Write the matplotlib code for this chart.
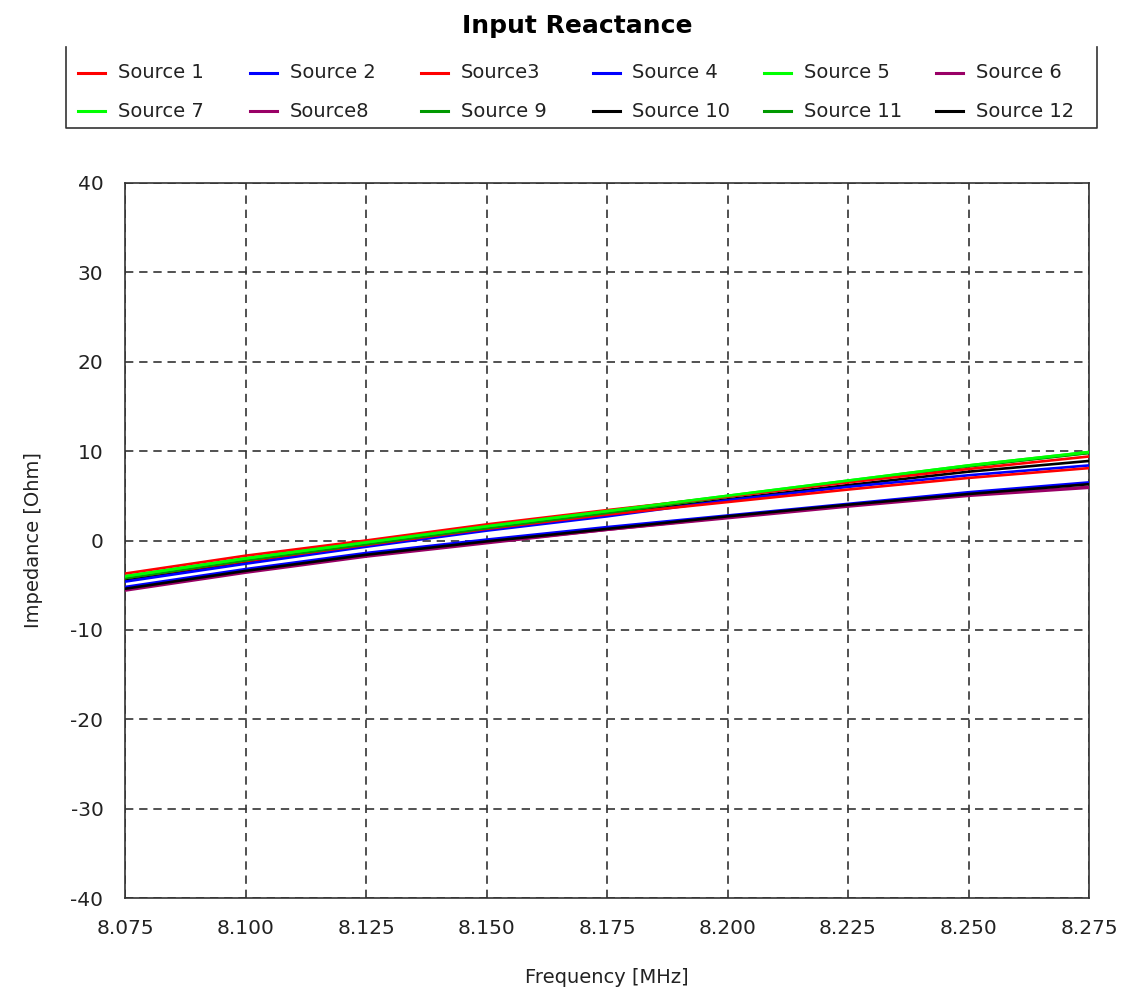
import matplotlib
matplotlib.use("Agg")
import matplotlib.pyplot as plt
from matplotlib.lines import Line2D

freq = [8.075, 8.100, 8.125, 8.150, 8.175, 8.200, 8.225, 8.250, 8.275]

names = ["Source 1", "Source 2", "Source3", "Source 4", "Source 5", "Source 6",
         "Source 7", "Source8", "Source 9", "Source 10", "Source 11", "Source 12"]
colors = ["#FF0000", "#0000FF", "#FF0000", "#0000FF", "#00FF00", "#990066",
          "#00FF00", "#990066", "#009900", "#000000", "#009900", "#000000"]

s1 = [-3.7, -1.7, 0.0, 1.8, 3.4, 4.9, 6.5, 8.0, 9.4]
s2 = [-4.6, -2.6, -0.7, 1.1, 2.7, 4.5, 6.0, 7.3, 8.4]
s3 = [-4.2, -2.3, -0.5, 1.3, 2.9, 4.3, 5.7, 7.0, 8.1]
s4 = [-5.2, -3.2, -1.4, 0.1, 1.5, 2.8, 4.1, 5.4, 6.5]
s5 = [-4.0, -2.0, -0.2, 1.6, 3.3, 5.0, 6.7, 8.4, 9.9]
s6 = [-5.6, -3.6, -1.8, -0.3, 1.2, 2.5, 3.8, 5.0, 5.9]
s7 = [-4.0, -2.0, -0.2, 1.6, 3.3, 5.0, 6.7, 8.4, 9.9]
s8 = [-5.5, -3.5, -1.7, -0.2, 1.2, 2.6, 3.9, 5.1, 6.0]
s9 = [-4.2, -2.2, -0.4, 1.4, 3.1, 4.9, 6.6, 8.3, 9.8]
s10 = [-4.4, -2.4, -0.6, 1.2, 2.9, 4.6, 6.2, 7.7, 8.9]
s11 = [-4.2, -2.2, -0.4, 1.4, 3.1, 4.9, 6.6, 8.3, 9.8]
s12 = [-5.4, -3.4, -1.6, -0.1, 1.3, 2.7, 4.0, 5.2, 6.3]
series = [s1, s2, s3, s4, s5, s6, s7, s8, s9, s10, s11, s12]

xticks = [8.075, 8.100, 8.125, 8.150, 8.175, 8.200, 8.225, 8.250, 8.275]
yticks = [-40, -30, -20, -10, 0, 10, 20, 30, 40]

plt.rcParams['font.family'] = ['DejaVu Sans']

W, H = 1123, 996
fig = plt.figure(figsize=(W/100, H/100), dpi=100)
ax = fig.add_axes([125/W, 1-898/H, (1089-125)/W, (898-183)/H])

order = [9, 3, 7, 1, 2, 5, 11, 8, 10, 6, 0, 4]
for i in order:
    ax.plot(freq, series[i], color=colors[i], lw=1.9, zorder=3)

ax.set_xlim(8.075, 8.275)
ax.set_ylim(-40, 40)
ax.set_xticks(xticks)
ax.set_xticklabels([f"{v:.3f}" for v in xticks])
ax.set_yticks(yticks)
ax.set_yticklabels([str(v) for v in yticks])
ax.tick_params(length=0, labelsize=14.5, colors="#222222")
ax.tick_params(axis='x', pad=15)
ax.tick_params(axis='y', pad=15.5)
ax.grid(True, color="#333333", ls=(0, (5, 3.5)), lw=1.2)
for sp in ax.spines.values():
    sp.set_color("#333333")
    sp.set_linewidth(1.2)

ax.set_xlabel("Frequency [MHz]", fontsize=14, color="#222222", labelpad=22)
ax.set_ylabel("Impedance [Ohm]", fontsize=14, color="#222222", labelpad=20)

fig.text(577/W, 1-26/H, "Input Reactance", ha="center", va="center",
         fontsize=18, fontweight="bold")

# legend, row-major, fixed-width columns as in reference
col_x = [78 + 171.5 * c for c in range(6)]
row_y = [73, 111]
for k in range(12):
    r, c = divmod(k, 6)
    xl = col_x[c]
    yl = 1 - row_y[r] / H
    fig.add_artist(Line2D([xl / W, (xl + 27) / W], [yl, yl], color=colors[k],
                          lw=2.2, transform=fig.transFigure))
    fig.text((xl + 40) / W, yl, names[k], ha="left", va="center",
             fontsize=14, color="#222222")

# legend frame (left, bottom, right)
x0, x1 = 66/W, 1097/W
y0, y1 = 1-128/H, 1-47/H
fig.add_artist(Line2D([x0, x0, x1, x1], [y1, y0, y0, y1], color="#333333",
                      lw=1.2, transform=fig.transFigure))

fig.savefig("out.png", dpi=100)
